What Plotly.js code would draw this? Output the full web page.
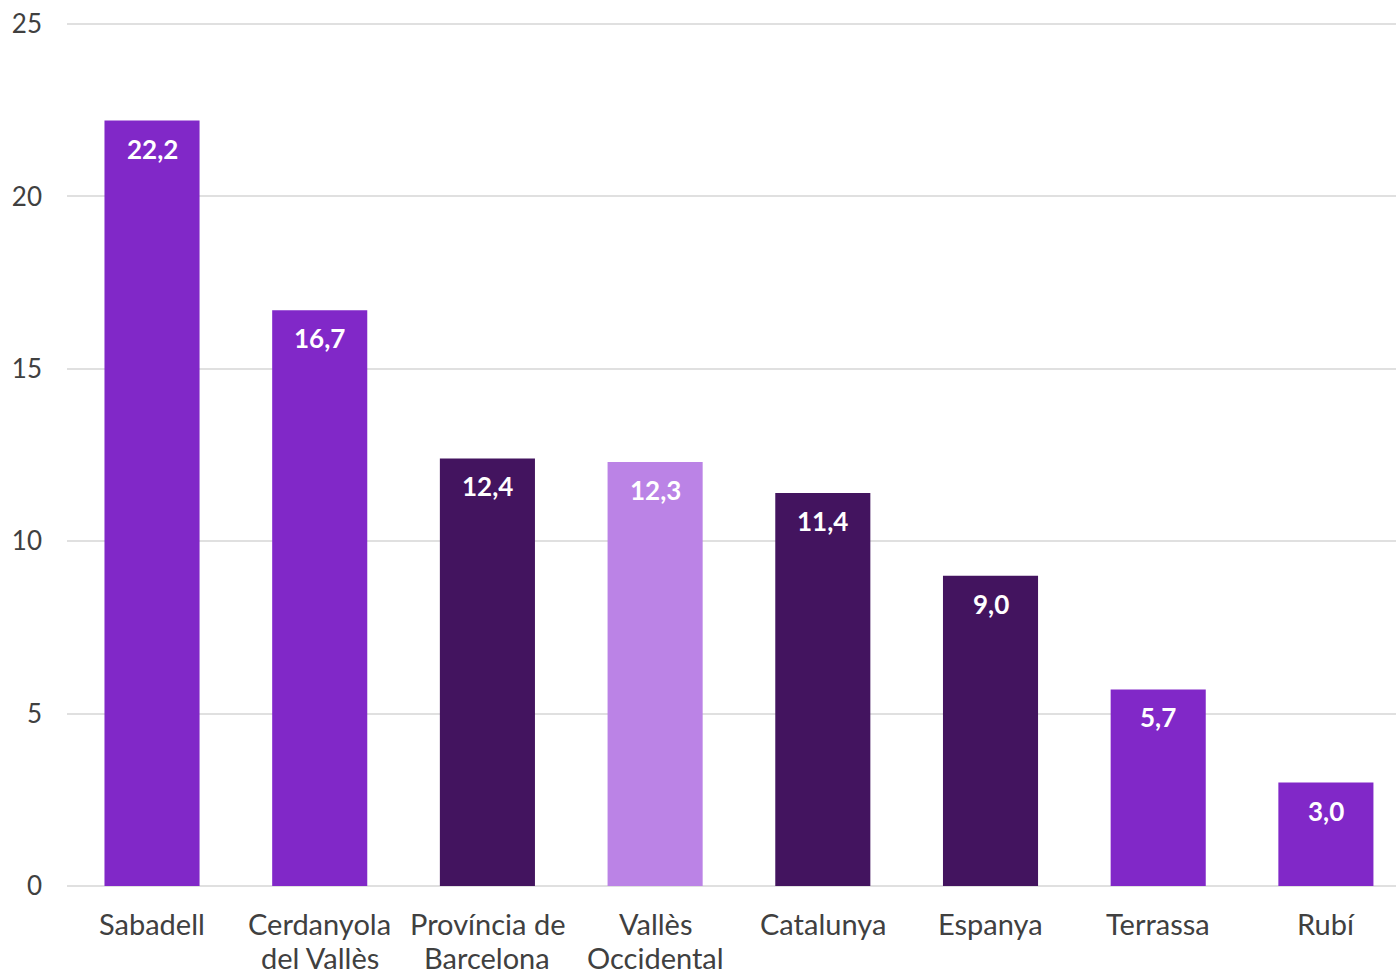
<!DOCTYPE html>
<html>
<head>
<meta charset="utf-8">
<script src="https://cdn.plot.ly/plotly-3.0.1.min.js"></script>
<style>html,body{margin:0;padding:0;background:#fff;}#chart{width:1396px;height:971px;}</style>
</head>
<body>
<div id="chart"></div>
<script>
const categories = ["Sabadell", "Cerdanyola<br>del Vallès", "Província de<br>Barcelona", "Vallès<br>Occidental", "Catalunya", "Espanya", "Terrassa", "Rubí"];
const values = [22.2, 16.7, 12.4, 12.3, 11.4, 9.0, 5.7, 3.0];
const barColors = ["#8128c8", "#8128c8", "#43145f", "#bb83e6", "#43145f", "#43145f", "#8128c8", "#8128c8"];
const labels = values.map(v => v.toFixed(1).replace('.', ','));
const yTicks = [0, 5, 10, 15, 20, 25];

const trace = {
  type: 'bar',
  x: categories,
  y: values,
  marker: {color: barColors},
  hoverinfo: 'skip'
};

const annotations = categories.map((c, i) => ({
  x: c, y: values[i], xref: 'x', yref: 'y',
  text: labels[i], showarrow: false,
  yanchor: 'middle', yshift: -28,
  font: {family: 'Lato', size: 26, color: '#ffffff', weight: 'bold'}
}));

// category labels, one annotation per line for tighter line spacing
categories.forEach(c => {
  c.split('<br>').forEach((line, j) => {
    annotations.push({
      x: c, y: 0, xref: 'x', yref: 'y',
      text: line, showarrow: false,
      yanchor: 'middle', yshift: -37 - 34 * j,
      font: {family: 'Lato', size: 29, color: '#404040'}
    });
  });
});

const layout = {
  width: 1396, height: 971,
  margin: {l: 67, r: 0, t: 23, b: 85},
  paper_bgcolor: '#ffffff', plot_bgcolor: '#ffffff',
  showlegend: false,
  bargap: 0.433,
  font: {family: 'Lato', color: '#404040'},
  xaxis: {
    type: 'category',
    range: [-0.507, 7.418],
    showticklabels: false,
    showgrid: false, zeroline: false, showline: false,
    ticks: ''
  },
  yaxis: {
    range: [0, 25.03],
    tickvals: yTicks,
    ticktext: yTicks.map(String),
    tickfont: {family: 'Lato', size: 26, color: '#404040'},
    showgrid: true, gridcolor: '#e0e0e0', gridwidth: 2,
    zeroline: true, zerolinecolor: '#e0e0e0', zerolinewidth: 2,
    showline: false, ticks: '', ticklabelstandoff: 24
  },
  annotations: annotations
};

Plotly.newPlot('chart', [trace], layout, {displayModeBar: false, staticPlot: true});
</script>
</body>
</html>
